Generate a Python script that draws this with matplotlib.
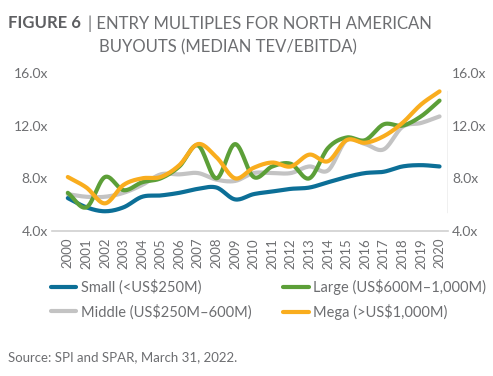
import matplotlib.pyplot as plt
import numpy as np

years = list(range(2000, 2021))
small = [6.5, 5.8, 5.5, 5.8, 6.6, 6.7, 6.9, 7.2, 7.3, 6.4, 6.8, 7.0,
         7.2, 7.3, 7.7, 8.1, 8.4, 8.5, 8.9, 9.0, 8.9]
middle = [6.8, 6.6, 6.6, 6.9, 7.5, 8.3, 8.3, 8.4, 7.9, 7.8, 8.4, 8.4,
          8.4, 8.9, 8.6, 10.9, 10.6, 10.2, 11.9, 12.2, 12.7]
large = [6.9, 5.8, 8.1, 7.1, 7.7, 8.0, 8.9, 10.5, 8.0, 10.6, 8.1, 8.9,
         9.1, 8.0, 10.3, 11.1, 10.9, 12.1, 12.0, 12.7, 13.9]
mega = [8.1, 7.3, 6.1, 7.5, 8.0, 8.1, 9.0, 10.6, 9.6, 8.0, 8.8, 9.2,
        8.9, 9.8, 9.3, 10.9, 10.7, 11.2, 12.2, 13.6, 14.6]

labels = ["Small (<US$250M)", "Middle (US$250M\u2013600M)",
          "Large (US$600M\u20131,000M)", "Mega (>US$1,000M)"]
colors = ["#0c6f97", "#c3c3c3", "#5c9f38", "#f9ad1e"]
yticks = [4, 8, 12, 16]

txt = "#6d6e71"
plt.rcParams["font.family"] = ["Lato", "DejaVu Sans"]


def smooth(x, y, n=16):
    # catmull-rom curve through the points, only for drawing
    x = np.asarray(x, float)
    y = np.asarray(y, float)
    px = np.concatenate([[2 * x[0] - x[1]], x, [2 * x[-1] - x[-2]]])
    py = np.concatenate([[2 * y[0] - y[1]], y, [2 * y[-1] - y[-2]]])
    t = np.linspace(0, 1, n, endpoint=False)
    ox, oy = [], []
    for i in range(1, len(px) - 2):
        for p, out in ((px, ox), (py, oy)):
            p0, p1, p2, p3 = p[i - 1], p[i], p[i + 1], p[i + 2]
            out.extend(0.5 * (2 * p1 + (-p0 + p2) * t
                              + (2 * p0 - 5 * p1 + 4 * p2 - p3) * t ** 2
                              + (-p0 + 3 * p1 - 3 * p2 + p3) * t ** 3))
    ox.append(x[-1])
    oy.append(y[-1])
    return ox, oy


fig = plt.figure(figsize=(4.93, 3.76), dpi=100)
ax = fig.add_axes([0.1055, 0.3856, 0.803, 0.4204])

order = [1, 0, 2, 3]
series = [small, middle, large, mega]
handles = {}
for k in order:
    sx, sy = smooth(years, series[k])
    handles[k], = ax.plot(sx, sy, color=colors[k], lw=3, solid_capstyle="round",
                          label=labels[k])

ax.set_xlim(1999.15, 2020.45)
ax.set_ylim(4, 16)
ax.set_xticks(years)
ax.set_xticklabels([str(y) for y in years], rotation=90, fontsize=9.5, color=txt)
ax.set_yticks(yticks)
ax.set_yticklabels(["%.1fx" % v for v in yticks], fontsize=10, color=txt)
ax.tick_params(length=0, pad=4)
ax.tick_params(axis="y", labelright=True, pad=3)
ax.tick_params(axis="x", pad=5)
for s in ax.spines.values():
    s.set_visible(False)
ax.axhline(4, color="#d0d0d0", lw=1.2, clip_on=False)
ax.axvline(2020.45, ymin=0.12, ymax=0.885, color="#b5b5b5", lw=1)

# column-wise fill: Small/Middle in col 1, Large/Mega in col 2
fig.legend([handles[k] for k in range(4)], labels,
           ncol=2, loc="upper left", bbox_to_anchor=(0.103, 0.258),
           frameon=False, fontsize=10.5, labelcolor=txt, handlelength=1.75,
           handletextpad=0.3, columnspacing=2.2, labelspacing=0.62,
           borderaxespad=0, borderpad=0)

fig.text(0.016, 0.96, "FIGURE 6", fontsize=12, fontweight="bold", color="#5e5f62",
         va="top")
fig.text(0.178, 0.96, "| ENTRY MULTIPLES FOR NORTH AMERICAN", fontsize=12,
         color=txt, va="top")
fig.text(0.201, 0.896, "BUYOUTS (MEDIAN TEV/EBITDA)", fontsize=12, color=txt,
         va="top")
fig.text(0.016, 0.035, "Source: SPI and SPAR, March 31, 2022.", fontsize=9.5,
         color=txt, va="bottom")

fig.savefig("out.png", dpi=100)
